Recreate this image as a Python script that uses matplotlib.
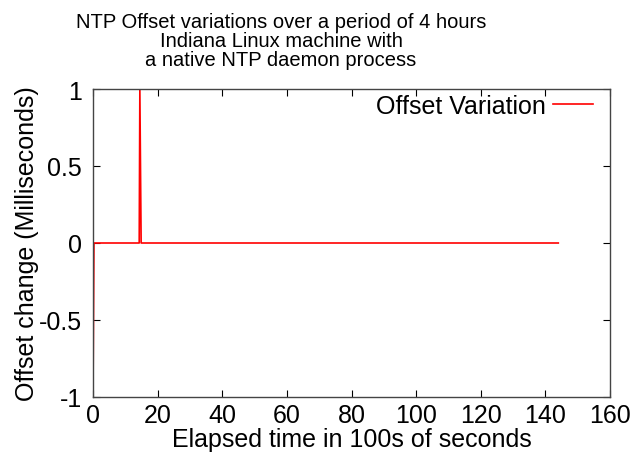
#!/usr/bin/env python3

import matplotlib
matplotlib.use("Agg")
import matplotlib.pyplot as plt

# elapsed time (100s of seconds) and offset change (ms)
elapsed = [0, 0.3, 14.3, 14.5, 14.9, 144]
offset = [-1, 0, 0, 1, 0, 0]

xticks = [0, 20, 40, 60, 80, 100, 120, 140, 160]
yticks = [-1, -0.5, 0, 0.5, 1]
ytick_labels = ["-1", "-0.5", "0", "0.5", "1"]

plt.rcParams["font.family"] = ["Liberation Sans", "DejaVu Sans"]
plt.rcParams["font.size"] = 18

fig = plt.figure(figsize=(6.42, 4.6), dpi=100)
ax = fig.add_axes([93 / 642, 1 - 398 / 460, 517 / 642, 308 / 460])

ax.plot(elapsed, offset, color="red", lw=1.2, label="Offset Variation")

ax.set_xlim(0, 160)
ax.set_ylim(-1, 1)
ax.set_xticks(xticks)
ax.set_yticks(yticks)
ax.set_yticklabels(ytick_labels)
ax.tick_params(direction="in", top=True, right=True, length=5, width=0.8,
               labelsize=18, pad=8)
ax.tick_params(axis="x", pad=4)
for sp in ax.spines.values():
    sp.set_linewidth(1.0)
    sp.set_color("#444444")

ax.set_xlabel("Elapsed time in 100s of seconds", fontsize=18, labelpad=0)
ax.set_ylabel("Offset change (Milliseconds)", fontsize=18, labelpad=0)

leg = ax.legend(loc="upper right", frameon=False, fontsize=18,
                markerfirst=False, handlelength=1.6, borderaxespad=0.0,
                handletextpad=0.3, borderpad=0.2,
                bbox_to_anchor=(1 - 12 / 517, 1.0))

fig.text(281 / 642, 1 - 13 / 460,
         "NTP Offset variations over a period of 4 hours\n"
         "Indiana Linux machine with\n"
         "a native NTP daemon process",
         ha="center", va="top", multialignment="center", fontsize=14.5,
         linespacing=1.0)

fig.savefig("out.png", dpi=100)
